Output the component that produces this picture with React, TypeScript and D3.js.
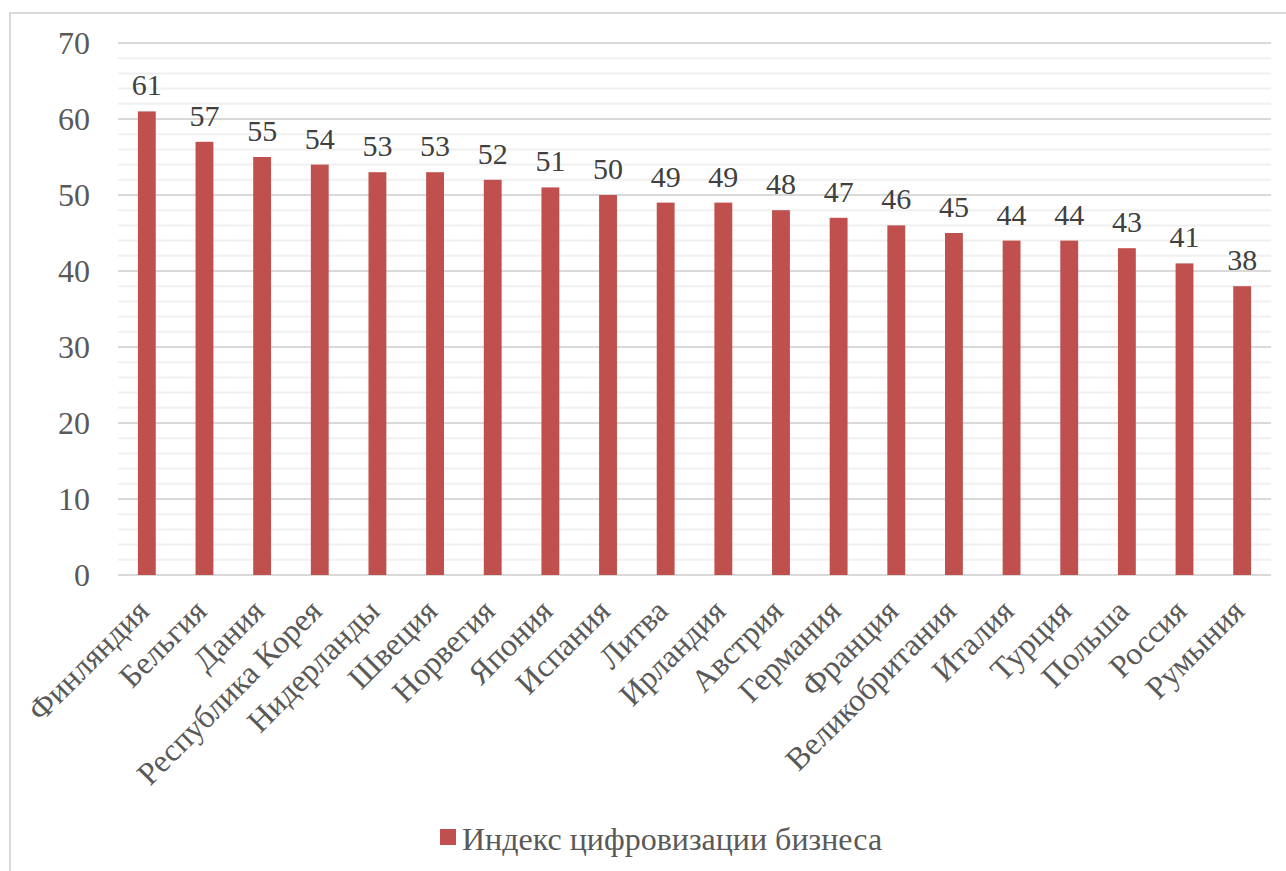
import React from "react";
import * as d3 from "d3";

const categories = ["Финляндия","Бельгия","Дания","Республика Корея","Нидерланды","Швеция","Норвегия","Япония","Испания","Литва","Ирландия","Австрия","Германия","Франция","Великобритания","Италия","Турция","Польша","Россия","Румыния"];
const values = [61,57,55,54,53,53,52,51,50,49,49,48,47,46,45,44,44,43,41,38];
const yTicks = [0,10,20,30,40,50,60,70];
const minorTicks = d3.range(0, 71, 2);
const seriesName = "Индекс цифровизации бизнеса";

const W = 1286, H = 871;
const left = 118, right = 1271, top = 43, bottom = 575;
const fontStyle = { fontFamily: "'Liberation Serif', 'Times New Roman', serif" };
const textColor = "#595959";

export default function App() {
  const x = d3.scaleBand<string>().domain(categories).range([left, right]).paddingInner(0.69).paddingOuter(0.345);
  const y = d3.scaleLinear().domain([0, 70]).range([bottom, top]);
  return (
    <svg width={W} height={H} style={{ position: "absolute", left: 0, top: 0, background: "#fff" }}>
      <rect x={10} y={13} width={W + 10} height={H + 10} fill="#fff" stroke="#d9d9d9" strokeWidth={2} />
      {minorTicks.filter(t => t % 10 !== 0).map(t => (
        <line key={"m" + t} x1={left} x2={right} y1={y(t)} y2={y(t)} stroke="#f0f0f0" strokeWidth={2} />
      ))}
      {yTicks.map(t => (
        <g key={t}>
          <line x1={left} x2={right} y1={y(t)} y2={y(t)} stroke="#d9d9d9" strokeWidth={2} />
          <text x={90} y={y(t)} dy="0.35em" textAnchor="end" style={fontStyle} fontSize={32} fill={textColor}>{t}</text>
        </g>
      ))}
      {categories.map((c, i) => {
        const bx = x(c)!;
        const cx = bx + x.bandwidth() / 2;
        return (
          <g key={c}>
            <rect x={bx} y={y(values[i])} width={x.bandwidth()} height={y(0) - y(values[i])} fill="#C0504D" />
            <text x={cx} y={y(values[i]) - 16} textAnchor="middle" style={fontStyle} fontSize={30} fill="#404040">{values[i]}</text>
            <text transform={`translate(${cx + 4},${bottom + 38}) rotate(-45)`} textAnchor="end" style={fontStyle} fontSize={32} fill={textColor}>{c}</text>
          </g>
        );
      })}
      <rect x={440} y={829} width={16} height={16} fill="#C0504D" />
      <text x={462} y={850} style={fontStyle} fontSize={32} fill={textColor}>{seriesName}</text>
    </svg>
  );
}
